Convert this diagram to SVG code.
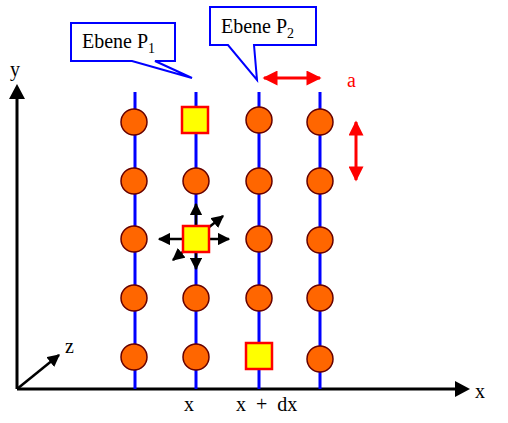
<svg xmlns="http://www.w3.org/2000/svg" width="508" height="423" viewBox="0 0 508 423">
<style>
text{font-family:"Liberation Serif","Times New Roman",serif;font-size:20px;fill:#000}
.plane{stroke:#0000ff;stroke-width:3}
.atom{fill:#ff6600;stroke:#660000;stroke-width:1.5}
.sq{fill:#ffff00;stroke:#ff0000;stroke-width:2.5}
.ax{stroke:#000;stroke-width:3;fill:none}
.blk{stroke:#000;stroke-width:2.5}
.red{stroke:#ff0000;stroke-width:3}
.callout{fill:#fff;stroke:#0000ff;stroke-width:2}
</style>
<defs>
<marker id="ah" viewBox="0 0 10 10" refX="9" refY="5" markerWidth="5" markerHeight="5" orient="auto" markerUnits="strokeWidth"><path d="M0,0L10,5L0,10z" fill="#000"/></marker>
<marker id="rh" viewBox="0 0 10 10" refX="9" refY="5" markerWidth="6" markerHeight="5" orient="auto-start-reverse" markerUnits="strokeWidth"><path d="M0,0L10,5L0,10z" fill="#ff0000"/></marker>
</defs>
<g id="connectors">
<line class="ax" x1="17" y1="389" x2="456" y2="389"/>
<path d="M455,381L470,389L455,397z" fill="#000"/>
<line class="ax" x1="17" y1="389" x2="17" y2="98"/>
<path d="M9,99L17,84L25,99z" fill="#000"/>
<line class="blk" x1="17" y1="389" x2="59" y2="355" marker-end="url(#ah)"/>
<line class="plane" x1="135" y1="92" x2="135" y2="389"/>
<line class="plane" x1="196" y1="92" x2="196" y2="389"/>
<line class="plane" x1="259" y1="92" x2="259" y2="389"/>
<line class="plane" x1="320" y1="92" x2="320" y2="389"/>
<line class="blk" x1="196" y1="226" x2="196" y2="204" marker-end="url(#ah)"/>
<line class="blk" x1="196" y1="252" x2="196" y2="269" marker-end="url(#ah)"/>
<line class="blk" x1="183" y1="239" x2="159" y2="239" marker-end="url(#ah)"/>
<line class="blk" x1="209" y1="239" x2="229" y2="239" marker-end="url(#ah)"/>
<line class="blk" x1="208" y1="228" x2="223" y2="216" marker-end="url(#ah)"/>
<line class="blk" x1="184" y1="251" x2="173" y2="260" marker-end="url(#ah)"/>
<line class="red" x1="264" y1="78" x2="320" y2="78" marker-start="url(#rh)" marker-end="url(#rh)"/>
<line class="red" x1="356" y1="122" x2="356" y2="180" marker-start="url(#rh)" marker-end="url(#rh)"/>
</g>
<g id="atoms">
<circle class="atom" cx="134" cy="122" r="13"/>
<circle class="atom" cx="134" cy="181" r="13"/>
<circle class="atom" cx="134" cy="239" r="13"/>
<circle class="atom" cx="134" cy="298" r="13"/>
<circle class="atom" cx="134" cy="357" r="13"/>
<circle class="atom" cx="196" cy="181" r="13"/>
<circle class="atom" cx="196" cy="298" r="13"/>
<circle class="atom" cx="196" cy="357" r="13"/>
<circle class="atom" cx="259" cy="120" r="13"/>
<circle class="atom" cx="259" cy="181" r="13"/>
<circle class="atom" cx="259" cy="239" r="13"/>
<circle class="atom" cx="259" cy="298" r="13"/>
<circle class="atom" cx="320" cy="122" r="13"/>
<circle class="atom" cx="320" cy="181" r="13"/>
<circle class="atom" cx="320" cy="240" r="13"/>
<circle class="atom" cx="320" cy="298" r="13"/>
<circle class="atom" cx="320" cy="359" r="13"/>
<rect class="sq" x="182" y="107" width="26" height="26"/>
<rect class="sq" x="183" y="226" width="26" height="26"/>
<rect class="sq" x="246" y="343" width="26" height="26"/>
</g>
<g id="callout1">
<path class="callout" d="M71,23H175V61H155L192,78L132,61H71Z"/>
<text x="82" y="48">Ebene P<tspan font-size="14" dy="5">1</tspan></text>
</g>
<g id="callout2">
<path class="callout" d="M210,7H316V45H254L257,80L228,45H210Z"/>
<text x="221" y="33">Ebene P<tspan font-size="14" dy="5">2</tspan></text>
</g>
<g id="labels">
<text x="10" y="76">y</text>
<text x="475" y="398">x</text>
<text x="65" y="353">z</text>
<text x="184" y="411">x</text>
<text x="236" y="411" word-spacing="5">x + dx</text>
<text x="347" y="87" style="fill:#ff0000">a</text>
</g>
</svg>
